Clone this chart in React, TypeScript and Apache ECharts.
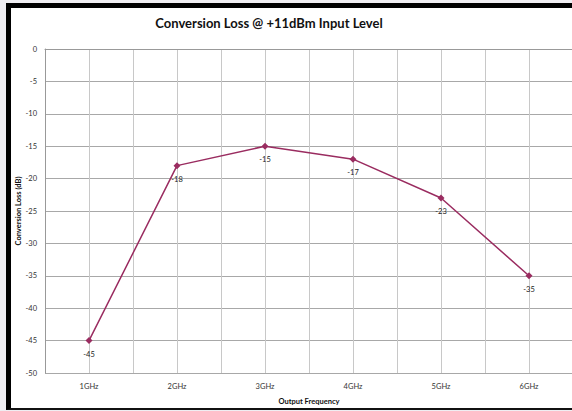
import React, { useEffect, useRef } from "react";
import * as echarts from "echarts";

const categories = ["1GHz", "2GHz", "3GHz", "4GHz", "5GHz", "6GHz"];
const lossValues = [-45, -18, -15, -17, -23, -35];
const yMin = -50;
const yMax = 0;
const yStep = 5;

export default function App() {
  const ref = useRef<HTMLDivElement>(null);
  useEffect(() => {
    document.body.style.margin = "0";
    document.body.style.overflow = "hidden";
    const chart = echarts.init(ref.current!, null, { renderer: "svg" });
    chart.setOption({
      animation: false,
      textStyle: { fontFamily: "Lato" },
      title: {
        text: "Conversion Loss @ +11dBm Input Level",
        left: 264,
        top: 11,
        textAlign: "center",
        textStyle: { fontSize: 13, fontWeight: "bold", color: "#111", fontFamily: "Lato" },
      },
      grid: { left: 45, top: 49, width: 528, height: 324, containLabel: false, outerBoundsMode: "none" },
      xAxis: [
        {
          type: "category",
          data: categories,
          boundaryGap: true,
          name: "Output Frequency",
          nameLocation: "middle",
          nameGap: 24,
          nameMoveOverlap: false,
          nameTextStyle: { fontSize: 7.5, fontWeight: "bold", color: "#111" },
          axisLine: { show: true, lineStyle: { color: "#999", width: 1 } },
          axisTick: { show: false },
          axisLabel: { fontSize: 7.5, color: "#333", margin: 9 },
          splitLine: { show: false },
        },
        {
          type: "value",
          min: 0,
          max: 12,
          interval: 1,
          show: true,
          position: "bottom",
          axisLine: { show: false },
          axisTick: { show: false },
          axisLabel: { show: false },
          splitLine: { show: true, lineStyle: { color: "#c8c8c8", width: 1 } },
        },
      ],
      yAxis: {
        type: "value",
        min: yMin,
        max: yMax,
        interval: yStep,
        name: "Conversion Loss (dB)",
        nameLocation: "middle",
        nameGap: 23,
        nameMoveOverlap: false,
        nameTextStyle: { fontSize: 7.5, fontWeight: "bold", color: "#111" },
        axisLine: { show: true, lineStyle: { color: "#999", width: 1 } },
        axisTick: { show: false },
        axisLabel: { fontSize: 7.5, color: "#333", margin: 8 },
        splitLine: { show: true, lineStyle: { color: "#a8a8a8", width: 1 } },
      },
      series: [
        {
          type: "line",
          xAxisIndex: 0,
          data: lossValues,
          symbol: "diamond",
          symbolSize: 7,
          lineStyle: { color: "#9a2c60", width: 1.5 },
          itemStyle: { color: "#9a2c60" },
          label: {
            show: true,
            position: "bottom",
            distance: 6,
            fontSize: 7.5,
            color: "#222",
          },
        },
      ],
    });
    return () => chart.dispose();
  }, []);

  return (
    <div style={{ position: "fixed", left: 0, top: 0, width: 572, height: 411, background: "#efeef2", overflow: "hidden" }}>
      <div
        style={{
          position: "absolute",
          left: 6,
          top: 3,
          width: 620,
          height: 400,
          borderLeft: "5px solid #000",
          borderTop: "5px solid #000",
          borderBottom: "2px solid #111",
          background: "#fff",
        }}
      />
      <div ref={ref} style={{ position: "absolute", left: 0, top: 0, width: 572, height: 411, overflow: "hidden" }} />
    </div>
  );
}
